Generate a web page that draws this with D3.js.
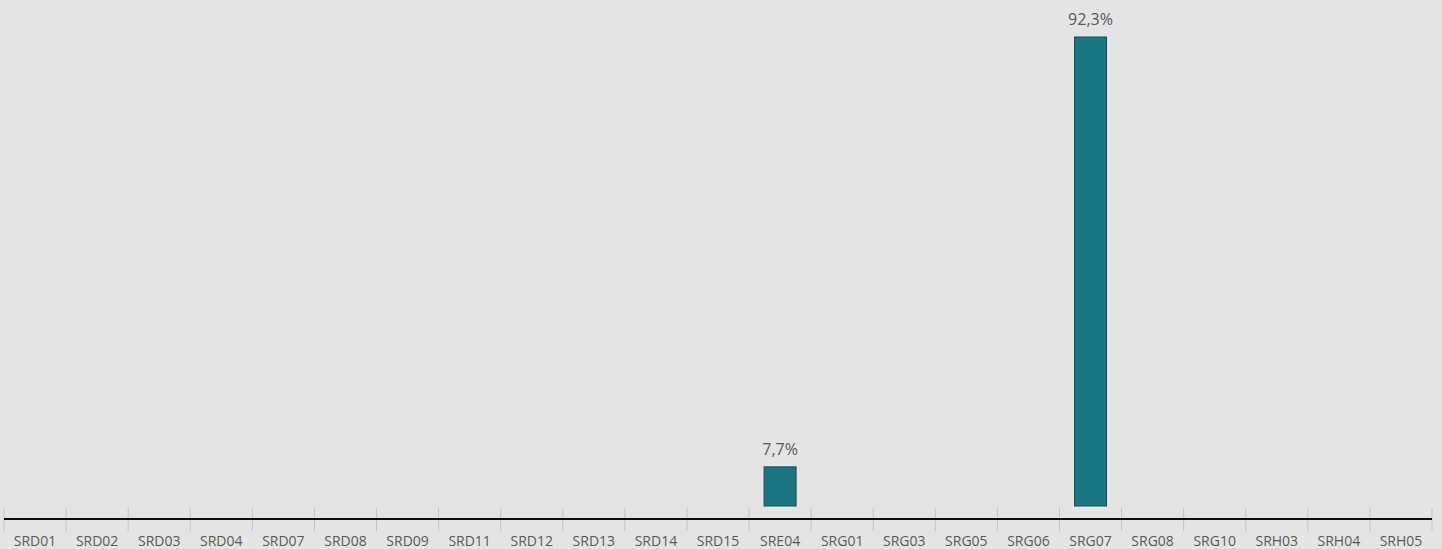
<!DOCTYPE html>
<html>
<head>
<meta charset="utf-8">
<script src="https://cdn.jsdelivr.net/npm/d3@7"></script>
<style>
  html, body { margin: 0; padding: 0; background: #e4e4e4; }
  svg { display: block; }
</style>
</head>
<body>
<script>
const categories = ['SRD01', 'SRD02', 'SRD03', 'SRD04', 'SRD07', 'SRD08', 'SRD09', 'SRD11', 'SRD12',
  'SRD13', 'SRD14', 'SRD15', 'SRE04', 'SRG01', 'SRG03', 'SRG05', 'SRG06', 'SRG07', 'SRG08',
  'SRG10', 'SRH03', 'SRH04', 'SRH05']
const values = [0, 0, 0, 0, 0, 0, 0, 0, 0, 0, 0, 0, 7.7, 0, 0, 0, 0, 92.3, 0, 0, 0, 0, 0]

const WIDTH = 1442
const HEIGHT = 549
const LEFT = 4
const RIGHT = 1432
const BASE = 506   // bas des barres
const AXIS_Y = 519 // ligne de l'axe

const data = categories.map((c, i) => ({ cat: c, val: values[i] }))

const svg = d3.select('body').append('svg').attr('width', WIDTH).attr('height', HEIGHT)
svg.append('rect').attr('width', WIDTH).attr('height', HEIGHT).attr('fill', '#e4e4e4')

const x = d3.scaleBand().domain(categories).range([LEFT, RIGHT]).paddingInner(0.485).paddingOuter(0.2425)
const xTicks = d3.scaleBand().domain(categories).range([LEFT, RIGHT])

const y = d3.scaleLinear().domain([0, 92.3]).range([BASE, 37])

// barres
svg.append('g').selectAll('rect')
  .data(data.filter(d => d.val > 0))
  .enter()
  .append('rect')
  .attr('x', d => x(d.cat))
  .attr('width', x.bandwidth())
  .attr('y', d => y(d.val))
  .attr('height', d => BASE - y(d.val))
  .attr('fill', '#1a7680')
  .attr('stroke', '#0f4f55')
  .attr('stroke-width', 1)

// etiquettes de valeur
svg.append('g').selectAll('text')
  .data(data.filter(d => d.val > 0))
  .enter()
  .append('text')
  .attr('x', d => x(d.cat) + x.bandwidth() / 2)
  .attr('y', d => y(d.val) - 12)
  .attr('text-anchor', 'middle')
  .attr('font-family', '"Open Sans", sans-serif')
  .attr('font-size', 16)
  .attr('fill', '#595959')
  .text(d => d.val.toFixed(1).replace('.', ',') + '%')

// axe x : graduations entre les categories
const tickPos = categories.map(c => xTicks(c)).concat([RIGHT])
svg.append('g').selectAll('line')
  .data(tickPos)
  .enter()
  .append('line')
  .attr('x1', d => d).attr('x2', d => d)
  .attr('y1', 508).attr('y2', 531)
  .attr('stroke', '#c4c4c4')
  .attr('stroke-width', 1)

svg.append('line')
  .attr('x1', LEFT).attr('x2', RIGHT)
  .attr('y1', AXIS_Y).attr('y2', AXIS_Y)
  .attr('stroke', '#0d0d0d')
  .attr('stroke-width', 2)

svg.append('g').selectAll('text')
  .data(categories)
  .enter()
  .append('text')
  .attr('x', d => xTicks(d) + xTicks.bandwidth() / 2)
  .attr('y', 546)
  .attr('text-anchor', 'middle')
  .attr('font-family', '"Open Sans", sans-serif')
  .attr('font-size', 14)
  .attr('fill', '#595959')
  .text(d => d)
</script>
</body>
</html>
